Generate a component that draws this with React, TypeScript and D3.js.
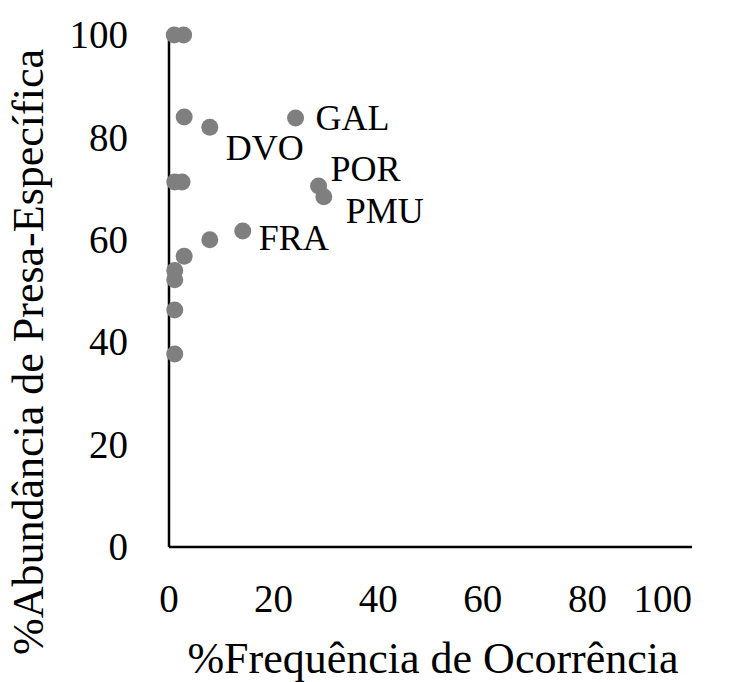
import React from "react";
import * as d3 from "d3";

// %Frequência de Ocorrência (x) vs %Abundância de Presa-Específica (y)
const freqOcorrencia = [1.0, 2.8, 2.9, 7.8, 24.2, 1.1, 2.5, 28.6, 29.6, 14.1, 7.8, 2.9, 1.1, 1.1, 1.1, 1.1];
const abundancia = [100, 100, 84.0, 82.0, 83.8, 71.3, 71.3, 70.5, 68.4, 61.7, 60.0, 56.8, 54.0, 52.2, 46.3, 37.7];
const rotulos = ["", "", "", "DVO", "GAL", "", "", "POR", "PMU", "FRA", "", "", "", "", "", ""];

const xTicks = [0, 20, 40, 60, 80, 100];
const yTicks = [0, 20, 40, 60, 80, 100];

// label offsets relative to the point, in px
const labelOffsets: Record<string, [number, number]> = {
  DVO: [16, 33],
  GAL: [20, 12],
  POR: [12, -5],
  PMU: [22, 26],
  FRA: [16, 19],
};

const W = 729;
const H = 682;
const FONT = "Liberation Serif";

export default function App() {
  const x = d3.scaleLinear().domain([0, 100]).range([169, 692]);
  const y = d3.scaleLinear().domain([0, 100]).range([547, 35]);
  const ts = (size: number) => ({ fontFamily: FONT, fontSize: size });

  return (
    <svg width={W} height={H} style={{ position: "absolute", left: 0, top: 0, background: "#fff" }}>
      <g fill="#000">
        {/* axes */}
        <line x1={x(0)} x2={x(100)} y1={y(0)} y2={y(0)} stroke="#000" strokeWidth={2.5} />
        <line x1={x(0)} x2={x(0)} y1={y(0)} y2={y(100)} stroke="#000" strokeWidth={2.5} />

        {yTicks.map((t) => (
          <text key={"y" + t} x={128} y={y(t)} dy="0.34em" textAnchor="end" style={ts(39)}>
            {t}
          </text>
        ))}
        {xTicks.map((t, i) => (
          <text
            key={"x" + t}
            x={x(t)}
            y={612}
            textAnchor={i === xTicks.length - 1 ? "end" : "middle"}
            style={ts(39)}
          >
            {t}
          </text>
        ))}

        {freqOcorrencia.map((fx, i) => (
          <circle key={"p" + i} cx={x(fx)} cy={y(abundancia[i])} r={8.5} fill="#7f7f7f" />
        ))}

        {rotulos.map((l, i) =>
          l ? (
            <text
              key={"l" + i}
              x={x(freqOcorrencia[i]) + labelOffsets[l][0]}
              y={y(abundancia[i]) + labelOffsets[l][1]}
              style={ts(36)}
            >
              {l}
            </text>
          ) : null
        )}

        <text x={433} y={673} textAnchor="middle" style={ts(44)}>
          %Frequência de Ocorrência
        </text>
        <text transform="translate(43,352) rotate(-90)" textAnchor="middle" style={ts(44)}>
          %Abundância de Presa-Específica
        </text>
      </g>
    </svg>
  );
}
